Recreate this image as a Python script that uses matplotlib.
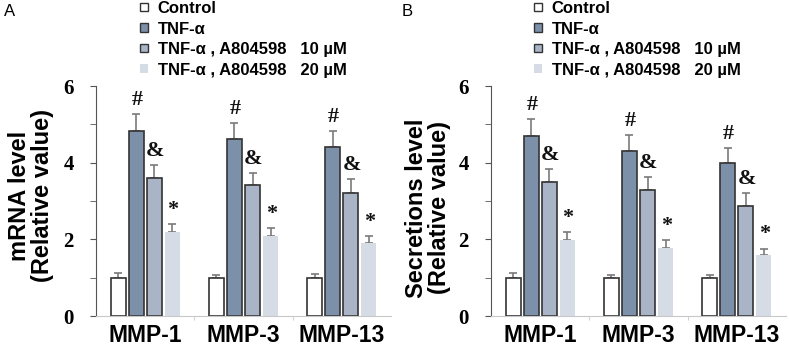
import matplotlib
matplotlib.use("Agg")
import matplotlib.pyplot as plt
import numpy as np
from matplotlib.patches import Patch

groups = ["MMP-1", "MMP-3", "MMP-13"]
series = ["Control", "TNF-α", "TNF-α , A804598   10 µM", "TNF-α , A804598   20 µM"]

# Panel A: mRNA level
mrna_vals = [
    [1.0, 1.0, 1.0],
    [4.83, 4.62, 4.41],
    [3.60, 3.42, 3.21],
    [2.19, 2.09, 1.90],
]
mrna_errs = [
    [0.12, 0.07, 0.10],
    [0.44, 0.42, 0.41],
    [0.34, 0.31, 0.36],
    [0.21, 0.21, 0.19],
]
# Panel B: secretions level
sec_vals = [
    [1.0, 1.0, 1.0],
    [4.70, 4.31, 3.98],
    [3.50, 3.30, 2.88],
    [1.98, 1.78, 1.58],
]
sec_errs = [
    [0.12, 0.08, 0.06],
    [0.44, 0.41, 0.39],
    [0.33, 0.32, 0.32],
    [0.20, 0.20, 0.18],
]
marks = ["", "#", "&", "*"]
yticks_major = [0, 2, 4, 6]
yticks_minor = [1, 3, 5]

colors = ["#ffffff", "#7d90aa", "#a9b4c7", "#d6dce6"]
edges = ["#333333", "#333333", "#333333", "none"]

W, H = 789, 347
fig = plt.figure(figsize=(W / 100, H / 100), dpi=100)

sans = "Liberation Sans"
serif = "Liberation Serif"


def panel(left_px, vals, errs, ylabel, letter, letter_x, leg_x, lab_x, lab_y):
    ax = fig.add_axes([left_px / W, (H - 316) / H, 295 / W, 230 / H])
    x = np.arange(len(groups))
    offs = [-0.275, -0.092, 0.092, 0.275]
    bw = 0.152
    for i in range(4):
        xs = x + offs[i]
        ax.bar(xs, vals[i], width=bw, color=colors[i], edgecolor=edges[i],
               linewidth=1.2, zorder=2)
        ax.errorbar(xs, vals[i], yerr=[np.zeros(3), errs[i]], fmt="none",
                    ecolor="#7a7a7a", elinewidth=1.2, capsize=3, capthick=1.2,
                    zorder=1)
        if marks[i]:
            for xx, v, e in zip(xs, vals[i], errs[i]):
                ax.annotate(marks[i], (xx, v + e), xytext=(0.5, 3),
                            textcoords="offset points", ha="center",
                            va="bottom", fontsize=16, fontweight="bold",
                            family=serif, color="#111111")
    ax.set_xlim(-0.5, 2.5)
    ax.set_ylim(0, 6)
    for s in ["top", "right"]:
        ax.spines[s].set_visible(False)
    ax.spines["left"].set_color("#555555")
    ax.spines["bottom"].set_color("#c8c8c8")
    ax.set_yticks(yticks_major)
    ax.set_yticks(yticks_minor, minor=True)
    ax.tick_params(axis="y", which="both", direction="out", length=4,
                   color="#555555", pad=12)
    ax.set_yticklabels([str(t) for t in yticks_major], fontsize=15,
                       fontweight="bold", family=serif)
    ax.set_xticks(x)
    ax.set_xticklabels(groups, fontsize=16.5, fontweight="bold", family=sans)
    ax.set_xticks([0.5, 1.5], minor=True)
    ax.tick_params(axis="x", which="major", length=0, pad=6)
    ax.tick_params(axis="x", which="minor", length=3, color="#c8c8c8",
                   direction="out")
    fig.text(lab_x / W, 1 - lab_y / H, ylabel, rotation=90, ha="center",
             va="center", fontsize=17, fontweight="bold", family=sans,
             linespacing=0.95)
    fig.text(letter_x / W, 1 - 12 / H, letter, ha="left", va="center",
             fontsize=12, family=sans)
    handles = [Patch(facecolor=colors[i], edgecolor=edges[i], linewidth=1)
               for i in range(4)]
    ax.legend(handles, series, loc="upper left",
              bbox_to_anchor=(leg_x / W, 1 - 1 / H),
              bbox_transform=fig.transFigure, frameon=False,
              prop={"family": sans, "weight": "bold", "size": 12},
              handlelength=0.45, handleheight=0.4, handletextpad=0.6,
              labelspacing=0.33, borderpad=0, borderaxespad=0)
    return ax


panel(96, mrna_vals, mrna_errs, "mRNA level\n(Relative value)", "A", 4,
      140, 31, 196)
panel(491, sec_vals, sec_errs, "Secretions level\n(Relative value)", "B",
      402, 534, 428, 208)

fig.savefig("out.png", dpi=100)
